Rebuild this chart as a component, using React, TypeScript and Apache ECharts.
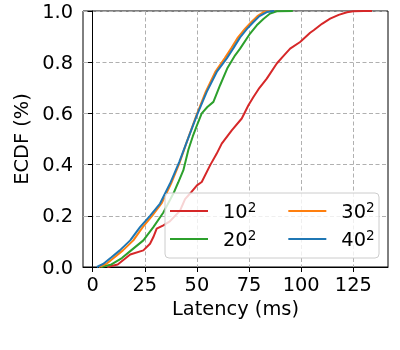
import React, { useEffect, useRef } from "react";
import * as echarts from "echarts";

// ECDF read-offs: latency (ms) and cumulative fraction
const lat10 = [7, 12, 18, 24.3, 27.5, 29.1, 30.7, 33.9, 37, 41.9, 44.3, 46.7, 50, 52.3, 56.3, 59.5, 61.9, 66.7, 71.5, 74.7, 77.1, 80, 83.5, 88.3, 91, 94.7, 99.5, 104.3, 106, 110, 113.9, 118, 122, 125, 130, 134];
const cdf10 = [0, 0.01, 0.049, 0.065, 0.091, 0.117, 0.15, 0.163, 0.178, 0.22, 0.265, 0.287, 0.319, 0.332, 0.397, 0.443, 0.482, 0.534, 0.58, 0.632, 0.664, 0.7, 0.736, 0.795, 0.82, 0.853, 0.879, 0.915, 0.925, 0.95, 0.97, 0.985, 0.995, 0.999, 1.0, 1.0];

const lat20 = [4, 9, 14, 18, 24.3, 29.1, 33.9, 38.7, 41, 43.5, 45.9, 48, 50, 52.3, 55, 57.9, 61.1, 64.5, 68.3, 70.7, 75.5, 78.7, 82, 85.1, 88.3, 96];
const cdf20 = [0, 0.01, 0.035, 0.062, 0.104, 0.156, 0.213, 0.287, 0.33, 0.378, 0.458, 0.51, 0.553, 0.6, 0.625, 0.645, 0.71, 0.775, 0.827, 0.853, 0.912, 0.944, 0.97, 0.99, 0.999, 1.0];

const lat30 = [3, 6.5, 10.5, 14.5, 19.5, 24, 28.5, 33, 37.6, 41.8, 45.1, 49.8, 54.2, 58.8, 63.3, 66.5, 69.7, 73, 76, 79, 82, 85];
const cdf30 = [0, 0.012, 0.038, 0.065, 0.104, 0.156, 0.2, 0.248, 0.326, 0.41, 0.488, 0.593, 0.684, 0.762, 0.815, 0.855, 0.897, 0.93, 0.956, 0.98, 0.996, 1.0];

const lat40 = [2, 5, 9, 13, 18, 22.7, 27.5, 32.3, 37.1, 41.5, 45.1, 50, 54.7, 59.5, 64.3, 67.5, 70.7, 74, 77, 80, 83.5, 87];
const cdf40 = [0, 0.012, 0.038, 0.065, 0.104, 0.156, 0.2, 0.248, 0.326, 0.41, 0.488, 0.593, 0.684, 0.762, 0.815, 0.855, 0.897, 0.93, 0.956, 0.98, 0.996, 1.0];

const seriesNames = ["10^2", "20^2", "30^2", "40^2"];
const seriesColors = ["#d62728", "#2ca02c", "#ff7f0e", "#1f77b4"];
const xTicks = [0, 25, 50, 75, 100, 125];

const FONT = "DejaVu Sans";
const FS = 19.4;

function zip(xs: number[], ys: number[]) {
  return xs.map((x, i) => [x, ys[i]]);
}

export default function App() {
  const ref = useRef<HTMLDivElement>(null);
  useEffect(() => {
    if (!ref.current) return;
    const chart = echarts.init(ref.current, undefined, { renderer: "svg" });
    const allData = [zip(lat10, cdf10), zip(lat20, cdf20), zip(lat30, cdf30), zip(lat40, cdf40)];
    const legendCommon = {
      orient: "horizontal" as const,
      left: 170,
      padding: 0,
      itemWidth: 38,
      itemHeight: 2,
      itemGap: 32,
      icon: "rect",
      selectedMode: false,
      formatter: (name: string) => {
        const [b, e] = name.split("^");
        return `{base|${b}}{sup|${e}}`;
      },
      textStyle: {
        padding: [0, 0, 0, 10],
        rich: {
          base: { fontFamily: FONT, fontSize: FS, lineHeight: 22, color: "#000" },
          sup: { fontFamily: FONT, fontSize: 13.6, lineHeight: 13, verticalAlign: "top", color: "#000" },
        },
      },
      z: 5,
    };
    chart.setOption({
      animation: false,
      textStyle: { fontFamily: FONT },
      grid: {
        left: 83,
        right: 12,
        top: 11,
        bottom: 83,
        show: true,
        borderColor: "#000",
        borderWidth: 1,
        backgroundColor: "transparent",
      },
      xAxis: {
        type: "value",
        min: -4.65,
        max: 141.65,
        name: "Latency (ms)",
        nameLocation: "middle",
        nameGap: 32,
        nameTextStyle: { fontFamily: FONT, fontSize: FS, color: "#000" },
        axisLine: { show: true, lineStyle: { color: "#000", width: 1 } },
        axisTick: { show: true, length: 5, lineStyle: { color: "#000", width: 1 }, customValues: xTicks },
        axisLabel: { customValues: xTicks, fontFamily: FONT, fontSize: FS, color: "#000", margin: 8 },
        splitLine: { show: true, lineStyle: { color: "#b0b0b0", type: [4, 2.5], width: 1 } },
      },
      yAxis: {
        type: "value",
        min: 0,
        max: 1,
        interval: 0.2,
        name: "ECDF (%)",
        nameLocation: "middle",
        nameGap: 49,
        nameTextStyle: { fontFamily: FONT, fontSize: FS, color: "#000" },
        axisLine: { show: true, lineStyle: { color: "#000", width: 1 } },
        axisTick: { show: true, length: 5, lineStyle: { color: "#000", width: 1 } },
        axisLabel: {
          fontFamily: FONT,
          fontSize: FS,
          color: "#000",
          margin: 10,
          formatter: (v: number) => v.toFixed(1),
        },
        splitLine: { show: true, lineStyle: { color: "#b0b0b0", type: [4, 2.5], width: 1 } },
      },
      legend: [
        { ...legendCommon, top: 200, data: [seriesNames[0], seriesNames[2]] },
        { ...legendCommon, top: 228, data: [seriesNames[1], seriesNames[3]] },
      ],
      graphic: {
        elements: [
          {
            type: "rect",
            z: 4,
            shape: { x: 165, y: 193, width: 214, height: 65, r: 4 },
            style: { fill: "rgba(255,255,255,0.8)", stroke: "#cccccc", lineWidth: 1 },
          },
        ],
      },
      series: seriesNames.map((n, i) => ({
        name: n,
        type: "line",
        data: allData[i],
        showSymbol: false,
        symbol: "none",
        color: seriesColors[i],
        lineStyle: { color: seriesColors[i], width: 2 },
        z: 2 + i * 0.01,
      })),
    });
    return () => chart.dispose();
  }, []);
  return <div ref={ref} style={{ position: "fixed", left: 0, top: 0, width: 400, height: 350 }} />;
}
